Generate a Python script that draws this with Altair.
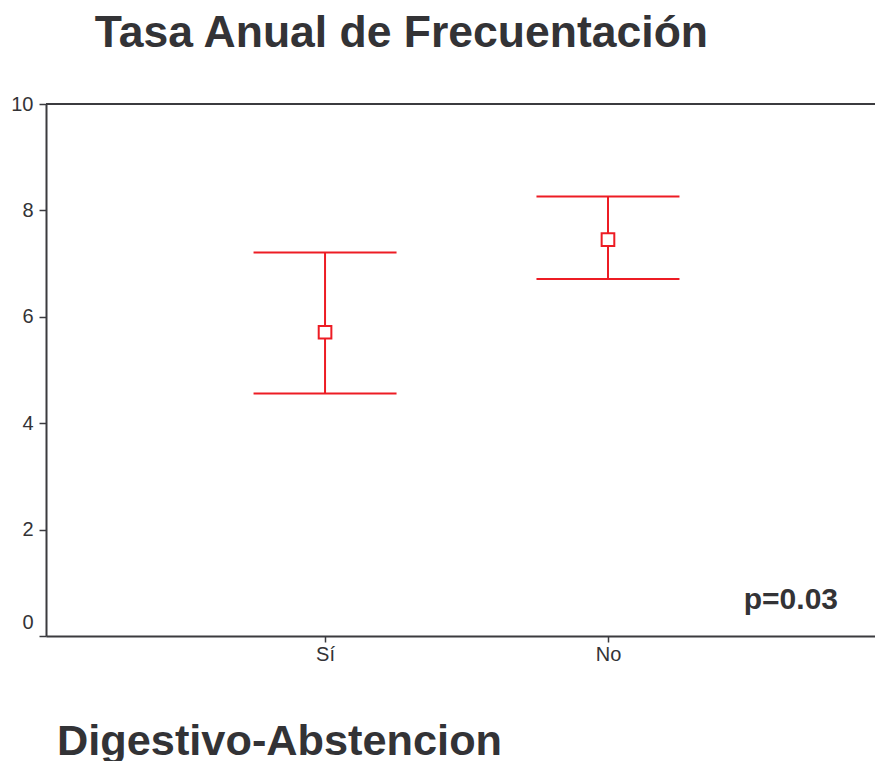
import altair as alt
import pandas as pd

# Annual attendance rate by group: mean with its confidence interval
groups = ["Sí", "No"]
means = [5.71, 7.45]
lows = [4.56, 6.71]
highs = [7.21, 8.26]

y_ticks = [0, 2, 4, 6, 8, 10]
p_label = "p=0.03"
p_y = 0.5

df = pd.DataFrame({"grupo": groups, "media": means, "inf": lows, "sup": highs})

RED = "#ed1c24"
INK = "#333336"
AXIS = "#3b3b3f"
FONT = "Liberation Sans"

W, H = 829, 532

x_enc = alt.X(
    "grupo:N",
    sort=groups,
    scale=alt.Scale(type="point", padding=0.965, align=0.511),
    axis=alt.Axis(
        title="Digestivo-Abstencion",
        titleFont=FONT,
        titleFontSize=43.3,
        titleFontWeight="bold",
        titleColor=INK,
        titleX=10.5,
        titleY=118,
        titleAlign="left",
        titleBaseline="alphabetic",
        labelAngle=0,
        labelFont=FONT,
        labelFontSize=20,
        labelColor=INK,
        labelPadding=2,
        tickSize=6,
        tickWidth=1.5,
        tickColor=AXIS,
        domainColor=AXIS,
        domainWidth=2,
    ),
)

y_scale = alt.Scale(domain=[0, 10], nice=False, zero=True)
y_axis = alt.Axis(
    title=None,
    values=y_ticks,
    grid=False,
    labelFont=FONT,
    labelFontSize=20,
    labelColor=INK,
    labelPadding=6,
    labelOffset=alt.ExprRef("datum.value == 0 ? -14 : 0"),
    tickSize=7,
    tickWidth=1.5,
    tickColor=AXIS,
    domainColor=AXIS,
    domainWidth=2,
)

base = alt.Chart(df)

whisker = base.mark_rule(color=RED, strokeWidth=2, opacity=1).encode(
    x=x_enc,
    y=alt.Y("inf:Q", scale=y_scale, axis=y_axis),
    y2="sup:Q",
)

cap_low = base.mark_tick(color=RED, size=143, thickness=2, orient="horizontal", opacity=1).encode(
    x=x_enc, y=alt.Y("inf:Q", scale=y_scale, axis=y_axis)
)
cap_high = base.mark_tick(color=RED, size=143, thickness=2, orient="horizontal", opacity=1).encode(
    x=x_enc, y=alt.Y("sup:Q", scale=y_scale, axis=y_axis)
)

center = base.mark_point(
    shape="square", size=160, filled=True, fill="white", stroke=RED, strokeWidth=2, opacity=1
).encode(x=x_enc, y=alt.Y("media:Q", scale=y_scale, axis=y_axis))

# top frame line of the plot area
top_line = alt.Chart(pd.DataFrame({"v": [0]})).mark_rule(color=AXIS, strokeWidth=2).encode(
    x=alt.value(0), x2=alt.value(W), y=alt.value(0)
)

p_text = alt.Chart(pd.DataFrame({"t": [p_label], "y": [p_y]})).mark_text(
    font=FONT, fontSize=30, fontWeight="bold", color=INK, align="right", baseline="alphabetic"
).encode(text="t:N", x=alt.value(792), y=alt.Y("y:Q", scale=y_scale, axis=y_axis))

chart = (
    alt.layer(top_line, whisker, cap_low, cap_high, center, p_text)
    .properties(
        width=W,
        height=H,
        autosize=alt.AutoSizeParams(type="none"),
        padding={"left": 46, "top": 104, "right": 0, "bottom": 125},
        title=alt.Title(
            "Tasa Anual de Frecuentación",
            anchor="start",
            dx=84,
            font=FONT,
            fontSize=44.5,
            fontWeight="bold",
            color=INK,
            offset=38,
        ),
    )
    .configure_view(stroke=None)
    .configure(background="white")
)

chart.save("out.html", embed_options={"renderer": "svg", "actions": False})
